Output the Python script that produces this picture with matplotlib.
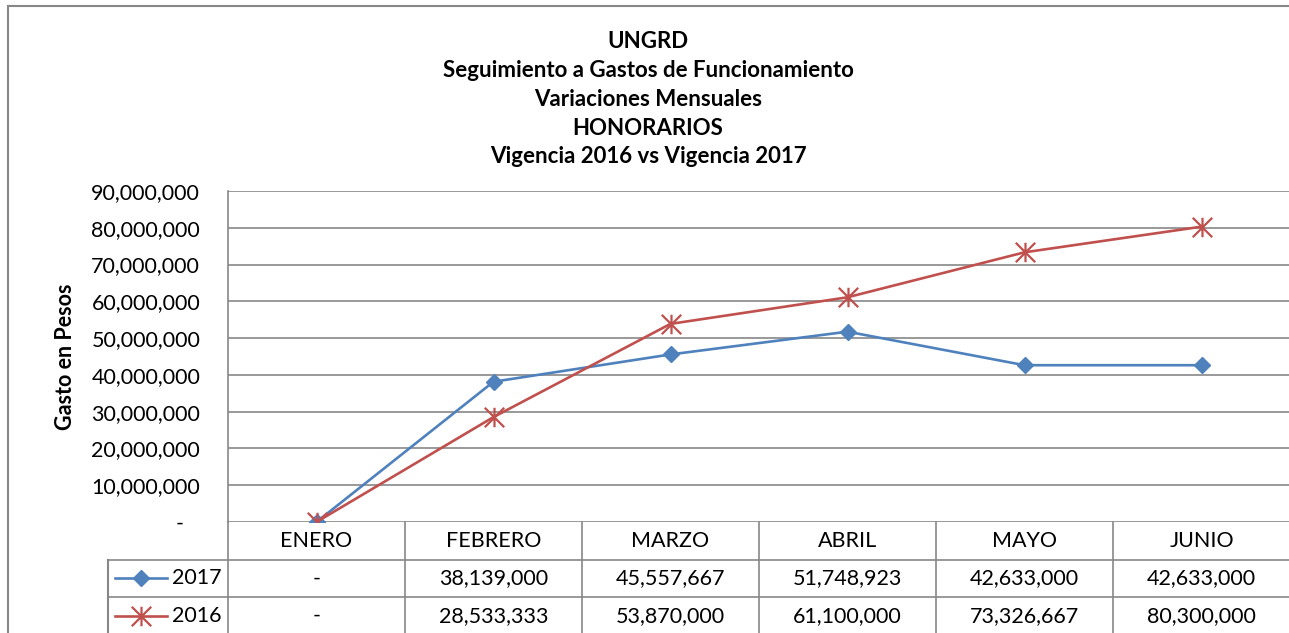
import numpy as np
import matplotlib.pyplot as plt
from matplotlib.path import Path
from matplotlib.patches import Rectangle
from matplotlib.ticker import FuncFormatter

# Data
meses = ["ENERO", "FEBRERO", "MARZO", "ABRIL", "MAYO", "JUNIO"]
v2017 = [0, 38139000, 45557667, 51748923, 42633000, 42633000]
v2016 = [0, 28533333, 53870000, 61100000, 73326667, 80300000]
yticks = np.arange(0, 90000001, 10000000)

plt.rcParams['font.family'] = ['Lato', 'DejaVu Sans']

blue = '#4F81BD'
red = '#C0504D'
gray = '#878787'
W, H = 1289, 633
fs = 15.5

# star marker like Excel: X plus vertical bar
star = Path([(-0.5, -0.5), (0.5, 0.5), (-0.5, 0.5), (0.5, -0.5), (0, -0.5), (0, 0.5)],
            [Path.MOVETO, Path.LINETO, Path.MOVETO, Path.LINETO, Path.MOVETO, Path.LINETO])


def fmt(v, pos=None):
    return '-' if v == 0 else f"{v:,.0f}"


def fmt_axis(v, pos=None):
    # accounting style: dash sits a bit left of the digits' right edge
    return '-   ' if v == 0 else f"{v:,.0f}"


fig = plt.figure(figsize=(W / 100, H / 100), dpi=100)

# outer chart border
fig.patches.append(Rectangle((8 / W, -0.1), 1.2, 1 - 6 / H + 0.1, transform=fig.transFigure,
                             fill=False, edgecolor=gray, linewidth=1.5))

# title
titulo = ["UNGRD", "Seguimiento a Gastos de Funcionamiento", "Variaciones Mensuales",
          "HONORARIOS", "Vigencia 2016 vs Vigencia 2017"]
for i, t in enumerate(titulo):
    fig.text(648 / W, 1 - (42 + i * 28.7) / H, t, ha='center', va='center',
             fontsize=16, fontweight='bold')

# main plot
ax = fig.add_axes([228 / W, 1 - 522 / H, 1062 / W, 331 / H])
x = np.arange(len(meses))
ax.plot(x, v2017, color=blue, lw=1.9, marker='D', ms=8.5, zorder=3)
ax.plot(x, v2016, color=red, lw=1.9, marker=star, ms=14, mew=1.6, zorder=3)
ax.set_xlim(-0.5, 5.5)
ax.set_ylim(0, 90000000)
ax.set_yticks(yticks)
ax.yaxis.set_major_formatter(FuncFormatter(fmt_axis))
ax.set_xticks([])
ax.tick_params(axis='y', length=0, pad=20, labelsize=fs)
ax.grid(axis='y', color=gray, lw=1.2)
ax.set_axisbelow(True)
for s in ['top', 'right', 'bottom']:
    ax.spines[s].set_visible(False)
ax.spines['left'].set_color(gray)
ax.spines['left'].set_linewidth(1.2)
ax.set_ylabel("Gasto en Pesos", fontsize=fs, fontweight='bold', va='center')
ax.yaxis.set_label_coords(-162 / 1062, 0.5)

# data table
lx = -0.5 - 120 / 177
tab = fig.add_axes([108 / W, 0, 1182 / W, 111 / H])
tab.set_xlim(lx, 5.5)
tab.set_ylim(111 / 37.5, 0)
tab.axis('off')
for yy in [1, 2, 3]:
    tab.plot([lx, 5.5], [yy, yy], color=gray, lw=1.2, clip_on=False)
for k in range(7):
    tab.plot([k - 0.5, k - 0.5], [0, 3], color=gray, lw=1.2, clip_on=False)
tab.plot([lx, lx], [1, 3], color=gray, lw=1.5, clip_on=False)

for i, m in enumerate(meses):
    tab.text(i, 0.5, m, ha='center', va='center', fontsize=fs)
    tab.text(i, 1.5, fmt(v2017[i]), ha='center', va='center', fontsize=fs)
    tab.text(i, 2.5, fmt(v2016[i]), ha='center', va='center', fontsize=fs)

x0, x1, xm = (115 - 228) / 177 - 0.5, (167 - 228) / 177 - 0.5, (141 - 228) / 177 - 0.5
tab.plot([x0, x1], [1.5, 1.5], color=blue, lw=1.9, clip_on=False)
tab.plot([xm], [1.5], color=blue, marker='D', ms=8.5, clip_on=False)
tab.plot([x0, x1], [2.5, 2.5], color=red, lw=1.9, clip_on=False)
tab.plot([xm], [2.5], color=red, marker=star, ms=14, mew=1.6, clip_on=False)
tab.text((172 - 228) / 177 - 0.5, 1.5, "2017", ha='left', va='center', fontsize=fs)
tab.text((172 - 228) / 177 - 0.5, 2.5, "2016", ha='left', va='center', fontsize=fs)

fig.savefig("out.png", dpi=100)
